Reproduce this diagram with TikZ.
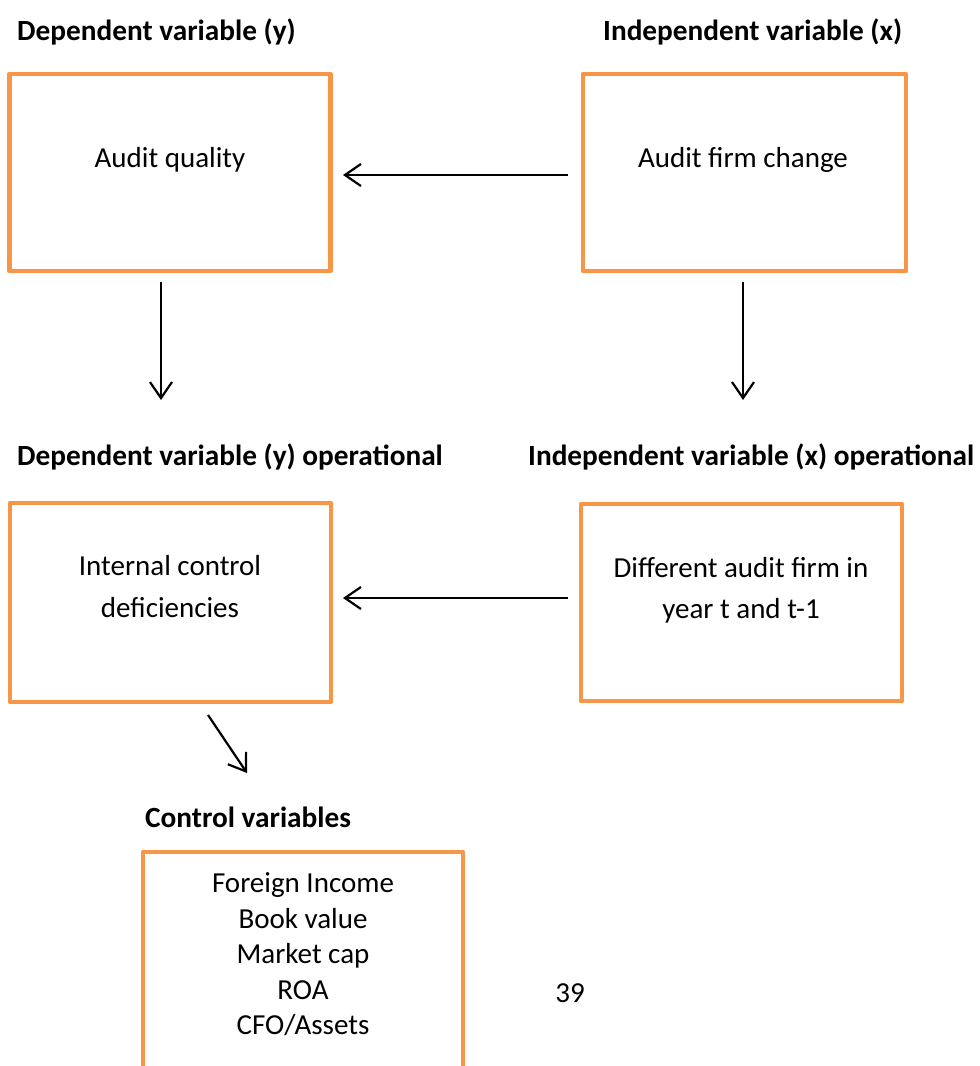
\documentclass[tikz,border=0pt]{standalone}
\usepackage{fontspec}
\setmainfont{Carlito}
\usetikzlibrary{arrows.meta}
\definecolor{boxorange}{HTML}{F79646}
\begin{document}
\begin{tikzpicture}[x=1pt,y=-1pt,
  box/.style={draw=boxorange, line width=4.5pt, line join=round, rectangle, inner sep=0pt},
  txt/.style={anchor=base, inner sep=0pt, font=\fontsize{29}{35}\selectfont},
  head/.style={anchor=base west, inner sep=0pt, font=\bfseries\fontsize{29.3}{35}\selectfont},
  arr/.style={line width=2.2pt, -{Straight Barb[length=16pt,width=22pt,line width=2.2pt]}}]
\useasboundingbox (0,0) rectangle (980,1066);
\clip (0,0) rectangle (980,1066);
\fill[white] (0,0) rectangle (980,1066);

% headings
\node[head] (h1) at (17,40) {Dependent variable (y)};
\node[head] (h2) at (603,40) {Independent variable (x)};
\node[head] (h3) at (17,465) {Dependent variable (y) operational};
\node[head] (h4) at (528,465) {Independent variable (x) operational};
\node[head] (h5) at (145,827) {Control variables};

% boxes
\node[box, minimum width=321pt, minimum height=197pt] (b1) at (170,172.5) {};
\node[box, minimum width=323pt, minimum height=197pt] (b2) at (744.5,172.5) {};
\node[box, minimum width=321pt, minimum height=199pt] (b3) at (170.5,602.5) {};
\node[box, minimum width=321pt, minimum height=197pt] (b4) at (741.5,602.5) {};
\node[box, minimum width=320pt, minimum height=260pt] (b5) at (303,982) {};

% box texts
\node[txt] (t1) at (170,167) {Audit quality};
\node[txt] (t2) at (743,167) {Audit firm change};
\node[txt] (t3a) at (170,575) {Internal control};
\node[txt] (t3b) at (170,617) {deficiencies};
\node[txt] (t4a) at (741,577) {Different audit firm in};
\node[txt] (t4b) at (741,618) {year t and t-1};
\node[txt] (t5a) at (303,892) {Foreign Income};
\node[txt] (t5b) at (303,928) {Book value};
\node[txt] (t5c) at (303,963.5) {Market cap};
\node[txt] (t5d) at (303,999) {ROA};
\node[txt] (t5e) at (303,1034) {CFO/Assets};

% page number
\node[txt] (pg) at (570,1002) {39};

% connector ends
\coordinate (a1s) at (568,175);
\coordinate (a1e) at (343,175);
\coordinate (a2s) at (161,282);
\coordinate (a2e) at (161,400);
\coordinate (a3s) at (743,282);
\coordinate (a3e) at (743,400);
\coordinate (a4s) at (568,598);
\coordinate (a4e) at (343,598);
\coordinate (a5s) at (208,715);
\coordinate (a5e) at (247,773);

\draw[arr] (a1s) -- (a1e);
\draw[arr] (a2s) -- (a2e);
\draw[arr] (a3s) -- (a3e);
\draw[arr] (a4s) -- (a4e);
\draw[arr] (a5s) -- (a5e);
\end{tikzpicture}
\end{document}
